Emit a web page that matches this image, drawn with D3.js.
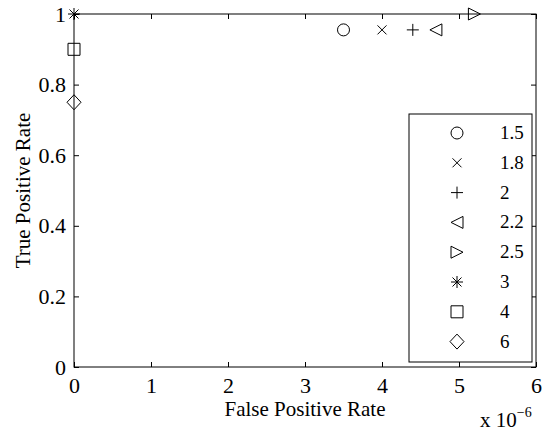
<!DOCTYPE html>
<html>
<head>
<meta charset="utf-8">
<script src="https://cdn.jsdelivr.net/npm/d3@7"></script>
<style>
  body { margin: 0; background: #fff; }
  svg text { font-family: "Times New Roman", "Liberation Serif", Times, serif; fill: #000; }
</style>
</head>
<body>
<div id="chart"></div>
<script>
// ROC points, one per threshold
const thresholds = ['1.5', '1.8', '2', '2.2', '2.5', '3', '4', '6']
const falsePos = [3.5e-6, 4.0e-6, 4.4e-6, 4.7e-6, 5.2e-6, 0, 0, 0]
const truePos = [0.955, 0.955, 0.955, 0.955, 1, 1, 0.9, 0.75]
const markers = ['circle', 'x', 'plus', 'triLeft', 'triRight', 'star', 'square', 'diamond']

const xTicks = [0, 1e-6, 2e-6, 3e-6, 4e-6, 5e-6, 6e-6]
const yTicks = [0, 0.2, 0.4, 0.6, 0.8, 1]

const width = 542,
  height = 433
const pLeft = 74, pRight = 536, pTop = 14, pBottom = 367

let svg = d3.select('#chart')
  .append('svg')
  .attr('width', width)
  .attr('height', height)

const x = d3.scaleLinear().domain([0, 6e-6]).range([pLeft, pRight])
const y = d3.scaleLinear().domain([0, 1]).range([pBottom, pTop])

// marker shapes drawn around (0,0)
let shape = (name) => {
  const p = d3.path()
  const s = 6
  if (name === 'circle') { p.moveTo(s, 0); p.arc(0, 0, s, 0, 2 * Math.PI) }
  if (name === 'x' || name === 'star') {
    const a = 4.5
    p.moveTo(-a, -a); p.lineTo(a, a); p.moveTo(-a, a); p.lineTo(a, -a)
  }
  if (name === 'plus' || name === 'star') {
    p.moveTo(-s, 0); p.lineTo(s, 0); p.moveTo(0, -s); p.lineTo(0, s)
  }
  if (name === 'triLeft') { p.moveTo(-s, 0); p.lineTo(s, -s); p.lineTo(s, s); p.closePath() }
  if (name === 'triRight') { p.moveTo(s, 0); p.lineTo(-s, -s); p.lineTo(-s, s); p.closePath() }
  if (name === 'square') { p.rect(-s, -s, 2 * s, 2 * s) }
  if (name === 'diamond') { p.moveTo(0, -7.5); p.lineTo(7, 0); p.lineTo(0, 7.5); p.lineTo(-7, 0); p.closePath() }
  return p.toString()
}

// axes, ticks pointing inward
let styleAxis = (g) => {
  g.attr('font-family', null).attr('font-size', null)
  g.select('.domain').remove()
  g.selectAll('line').attr('stroke', '#000')
  g.selectAll('text').style('font-size', '22px')
}

svg.append('g')
  .attr('transform', `translate(0, ${pBottom})`)
  .call(d3.axisBottom(x).tickValues(xTicks).tickSizeInner(-5).tickSizeOuter(0).tickPadding(10)
    .tickFormat(d => Math.round(d * 1e6)))
  .call(styleAxis)

svg.append('g')
  .attr('transform', `translate(0, ${pTop})`)
  .call(d3.axisTop(x).tickValues(xTicks).tickSizeInner(-5).tickSizeOuter(0).tickFormat(''))
  .call(styleAxis)

svg.append('g')
  .attr('transform', `translate(${pLeft}, 0)`)
  .call(d3.axisLeft(y).tickValues(yTicks).tickSizeInner(-5).tickSizeOuter(0).tickPadding(8)
    .tickFormat(d3.format('~g')))
  .call(styleAxis)

svg.append('g')
  .attr('transform', `translate(${pRight}, 0)`)
  .call(d3.axisRight(y).tickValues(yTicks).tickSizeInner(-5).tickSizeOuter(0).tickFormat(''))
  .call(styleAxis)

svg.append('rect')
  .attr('x', pLeft).attr('y', pTop)
  .attr('width', pRight - pLeft).attr('height', pBottom - pTop)
  .attr('fill', 'none').attr('stroke', '#000')

// legend box
const legX = 409, legY = 114, legW = 123, legH = 248
svg.append('rect')
  .attr('x', legX).attr('y', legY)
  .attr('width', legW).attr('height', legH)
  .attr('fill', '#fff').attr('stroke', '#000')

// points
svg.selectAll('path.pt')
  .data(thresholds)
  .enter()
  .append('path')
  .attr('class', 'pt')
  .attr('transform', (d, i) => `translate(${x(falsePos[i])}, ${y(truePos[i])})`)
  .attr('d', (d, i) => shape(markers[i]))
  .attr('fill', 'none')
  .attr('stroke', '#000')

const leg = svg.selectAll('g.leg')
  .data(thresholds)
  .enter()
  .append('g')
  .attr('class', 'leg')
  .attr('transform', (d, i) => `translate(${legX}, ${legY + 19 + i * 29.8})`)

leg.append('path')
  .attr('transform', 'translate(48, 0)')
  .attr('d', (d, i) => shape(markers[i]))
  .attr('fill', 'none')
  .attr('stroke', '#000')

leg.append('text')
  .attr('x', 91)
  .attr('y', 6)
  .style('font-size', '19px')
  .text(d => d)

// labels
svg.append('text')
  .attr('x', (pLeft + pRight) / 2)
  .attr('y', 416)
  .attr('text-anchor', 'middle')
  .style('font-size', '21px')
  .text('False Positive Rate')

svg.append('text')
  .attr('transform', `translate(30, ${(pTop + pBottom) / 2}) rotate(-90)`)
  .attr('text-anchor', 'middle')
  .style('font-size', '21px')
  .text('True Positive Rate')

const expo = svg.append('text')
  .attr('x', 480)
  .attr('y', 427)
  .style('font-size', '21px')
expo.append('tspan').text('x 10')
expo.append('tspan').attr('dy', -10).style('font-size', '14px').text('\u22126')
</script>
</body>
</html>
